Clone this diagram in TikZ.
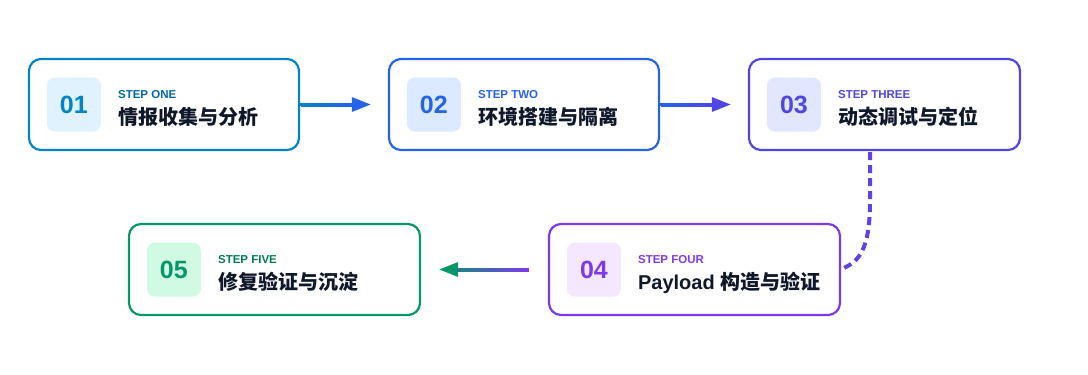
\documentclass[tikz,border=0pt]{standalone}
\usepackage{fontspec}
\setmainfont{Liberation Sans}
\newfontfamily\cjk{Noto Sans CJK SC}
\usetikzlibrary{arrows.meta,calc}
\definecolor{bA}{HTML}{0284C7}\definecolor{fA}{HTML}{E0F2FE}\definecolor{lA}{HTML}{0369A1}
\definecolor{bB}{HTML}{2563EB}\definecolor{fB}{HTML}{DBEAFE}\definecolor{lB}{HTML}{2563EB}
\definecolor{bC}{HTML}{4F46E5}\definecolor{fC}{HTML}{E0E7FF}\definecolor{lC}{HTML}{4F46E5}
\definecolor{bD}{HTML}{7C3AED}\definecolor{fD}{HTML}{F3E8FF}\definecolor{lD}{HTML}{7C3AED}
\definecolor{bE}{HTML}{059669}\definecolor{fE}{HTML}{D1FAE5}\definecolor{lE}{HTML}{047857}
\definecolor{ink}{HTML}{0F172A}
\tikzset{
  stepbox/.style={draw, line width=2.2pt, rounded corners=12pt, fill=white, minimum height=91pt, inner sep=0pt},
  badge/.style={rounded corners=8pt, minimum size=54pt, inner sep=0pt, font=\fontsize{25}{25}\selectfont\bfseries},
  lab/.style={anchor=base west, inner sep=0pt, font=\fontsize{11.5}{12}\selectfont\bfseries},
  ttl/.style={anchor=base west, inner sep=0pt, text=ink, font=\fontsize{20}{20}\selectfont\bfseries},
  arr/.style={line width=3pt, -{Triangle[length=19pt,width=14pt]}},
  dashline/.style={line width=4pt, dash pattern=on 8pt off 5pt}
}
\begin{document}
\begin{tikzpicture}[x=1pt,y=-1pt]
\useasboundingbox (0,0) rectangle (1088,375);
% boxes
\node[stepbox, draw=bA, minimum width=270pt] (s1) at (164,104.5) {};
\node[stepbox, draw=bB, minimum width=270pt] (s2) at (524,104.5) {};
\node[stepbox, draw=bC, minimum width=271pt] (s3) at (884.5,104.5) {};
\node[stepbox, draw=bD, minimum width=291pt] (s4) at (694.5,269.5) {};
\node[stepbox, draw=bE, minimum width=291pt] (s5) at (274.5,269.5) {};
% badges
\node[badge, fill=fA, text=bA] (n1) at ($(s1.west)+(46,0)$) {01};
\node[badge, fill=fB, text=bB] (n2) at ($(s2.west)+(46,0)$) {02};
\node[badge, fill=fC, text=bC] (n3) at ($(s3.west)+(46,0)$) {03};
\node[badge, fill=fD, text=bD] (n4) at ($(s4.west)+(46,0)$) {04};
\node[badge, fill=fE, text=bE] (n5) at ($(s5.west)+(46,0)$) {05};
% labels
\node[lab, text=lA] (l1) at ($(s1.north west)+(90,41)$) {STEP ONE};
\node[lab, text=lB] (l2) at ($(s2.north west)+(90,41)$) {STEP TWO};
\node[lab, text=lC] (l3) at ($(s3.north west)+(90,41)$) {STEP THREE};
\node[lab, text=lD] (l4) at ($(s4.north west)+(90,41)$) {STEP FOUR};
\node[lab, text=lE] (l5) at ($(s5.north west)+(90,41)$) {STEP FIVE};
% titles
\node[ttl] (t1) at ($(s1.north west)+(90,67)$) {\cjk\bfseries 情报收集与分析};
\node[ttl] (t2) at ($(s2.north west)+(90,67)$) {\cjk\bfseries 环境搭建与隔离};
\node[ttl] (t3) at ($(s3.north west)+(90,67)$) {\cjk\bfseries 动态调试与定位};
\node[ttl] (t4) at ($(s4.north west)+(90,67)$) {Payload {\cjk\bfseries 构造与验证}};
\node[ttl] (t5) at ($(s5.north west)+(90,67)$) {\cjk\bfseries 修复验证与沉淀};
% connectors
\draw[arr, bB, shorten >=17pt] (s1.east) -- (s2.west);
\shade[left color=bA, right color=bB] ($(s1.east)+(1,-1.5)$) rectangle ($(s2.west)+(-35,1.5)$);
\draw[arr, bC, shorten >=17pt] (s2.east) -- (s3.west);
\shade[left color=bB, right color=bC] ($(s2.east)+(1,-1.5)$) rectangle ($(s3.west)+(-35,1.5)$);
\coordinate (e4) at ($(s4.east)+(3,-1.5)$);
\draw[dashline, color=bC!55!bD] ($(s3.south)+(-14.5,1)$) -- ($(s3.south)+(-14.5,50)$)
  .. controls ($(s3.south)+(-14.5,100)$) and ($(e4)+(14,-7)$) .. (e4);
\draw[arr, bE, shorten <=19pt, shorten >=18pt] (s4.west) -- (s5.east);
\shade[left color=bE!80!bD, right color=bD] ($(s5.east)+(35,-1.5)$) rectangle ($(s4.west)+(-19,1.5)$);
\end{tikzpicture}
\end{document}
